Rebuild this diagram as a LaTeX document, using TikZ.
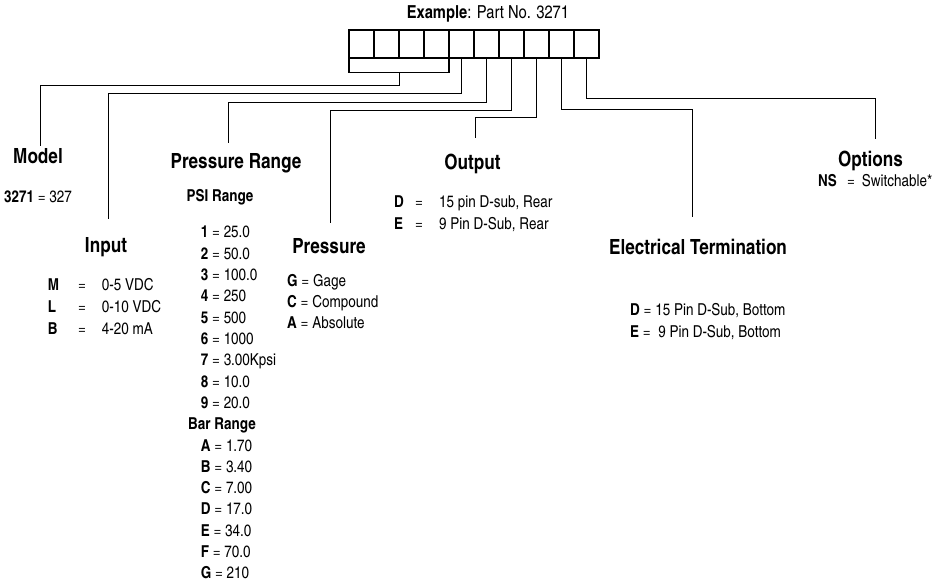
\documentclass[tikz,border=0pt]{standalone}
\usepackage{fontspec}
\setmainfont{texgyreheroscn}[Extension=.otf, UprightFont=*-regular, BoldFont=*-bold, ItalicFont=*-italic, BoldItalicFont=*-bolditalic]
\begin{document}
\begin{tikzpicture}[x=1bp,y=-1bp,
  cellbox/.style={draw, line width=1.4bp, minimum width=25bp, minimum height=28bp, inner sep=0pt, outer sep=0pt},
  conn/.style={line width=1.25bp},
  head/.style={font=\fontsize{21}{25}\selectfont\bfseries, anchor=base, inner sep=0pt},
  item/.style={font=\fontsize{16.5}{20}\selectfont, anchor=base west, inner sep=0pt},
  titletext/.style={font=\fontsize{18}{21}\selectfont, anchor=base, inner sep=0pt}]
\useasboundingbox (0,0) rectangle (950,587);
% title
\node[titletext] (title) at (488,19) {\textbf{Example}: Part No. 3271};
% boxes
\foreach \i in {1,...,10}
  \node[cellbox] (b\i) at ({349+25*(\i-0.5)},44) {};
% connectors
\coordinate (brk) at (399.5,72.5);
\coordinate (mEnd) at (40.5,146);
\coordinate (iEnd) at (108.5,219);
\coordinate (prEnd) at (228.5,143);
\coordinate (pEnd) at (330.5,223);
\coordinate (oEnd) at (475.5,137.7);
\coordinate (eEnd) at (692.5,216.7);
\coordinate (optEnd) at (875.5,139.3);
\draw[conn] (b1.south west) |- (brk) -| (b4.south east);
\draw[conn] (brk) -- ++(0,13) -| (mEnd);
\draw[conn] (b5.south) -- ++(0,35.5) -| (iEnd);
\draw[conn] (b6.south) -- ++(0,44.5) -| (prEnd);
\draw[conn] (b7.south) -- ++(0,52.5) -| (pEnd);
\draw[conn] (b8.south) -- ++(0,59.5) -| (oEnd);
\draw[conn] (b9.south) -- ++(0,51.5) -| (eEnd);
\draw[conn] (b10.south) -- ++(0,40.5) -| (optEnd);
% Model
\node[head] (hModel) at (38,164) {Model};
\node[item, anchor=base] (model1) at (38,203) {\textbf{3271} = 327};
% Input
\node[head] (hInput) at (106,253) {Input};
\node[item] (inM) at (47.7,290) {\makebox[30.3bp][l]{\textbf{M}}\makebox[23.7bp][l]{=}0-5 VDC};
\node[item] (inL) at (47.7,312) {\makebox[30.3bp][l]{\textbf{L}}\makebox[23.7bp][l]{=}0-10 VDC};
\node[item] (inB) at (47.7,334) {\makebox[30.3bp][l]{\textbf{B}}\makebox[23.7bp][l]{=}4-20 mA};
% Pressure Range
\node[head] (hPR) at (236,169) {Pressure Range};
\node[item, anchor=base, font=\fontsize{16.5}{20}\selectfont\bfseries] (psi) at (220,202) {PSI Range};
\foreach \k/\lab/\val in {0/1/25.0, 1/2/50.0, 2/3/100.0, 3/4/250, 4/5/500, 5/6/1000, 6/7/3.00Kpsi, 7/8/10.0, 8/9/20.0}
  \node[item] (psi\lab) at (200.7,{238+21.3*\k}) {\textbf{\lab} = \val};
\node[item, font=\fontsize{16.5}{20}\selectfont\bfseries] (bar) at (188,429.7) {Bar Range};
\foreach \k/\lab/\val in {10/A/1.70, 11/B/3.40, 12/C/7.00, 13/D/17.0, 14/E/34.0, 15/F/70.0, 16/G/210}
  \node[item] (bar\lab) at (200.7,{238+21.3*\k}) {\textbf{\lab} = \val};
% Pressure
\node[head] (hP) at (329,254) {Pressure};
\node[item] (pG) at (287,286.5) {\textbf{G} = Gage};
\node[item] (pC) at (287,307.3) {\textbf{C} = Compound};
\node[item] (pA) at (287,328) {\textbf{A} = Absolute};
% Output
\node[head] (hO) at (472.5,170) {Output};
\node[item] (oD) at (394,208) {\makebox[21bp][l]{\textbf{D}}\makebox[24bp][l]{=}15 pin D-sub, Rear};
\node[item] (oE) at (394,230) {\makebox[21bp][l]{\textbf{E}}\makebox[24bp][l]{=}9 Pin D-Sub, Rear};
% Electrical Termination
\node[head] (hE) at (698,255) {Electrical Termination};
\node[item] (eD) at (630,315) {\textbf{D} = 15 Pin D-Sub, Bottom};
\node[item] (eE) at (630,337) {\textbf{E} =\ \ 9 Pin D-Sub, Bottom};
% Options
\node[head] (hOpt) at (870.5,167) {Options};
\node[item] (optNS) at (818,187) {\makebox[29bp][l]{\textbf{NS}}\makebox[14.7bp][l]{=}Switchable*};
\end{tikzpicture}
\end{document}
